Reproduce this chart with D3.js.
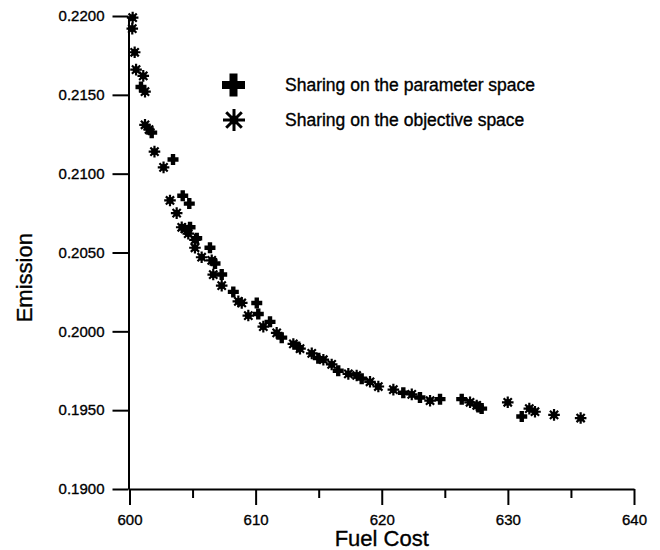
<!DOCTYPE html>
<html>
<head>
  <meta charset="utf-8"/>
  <title>Fuel Cost vs Emission</title>
  <script src="https://d3js.org/d3.v7.min.js"></script>
<style>
body { margin: 0; background: #fff; }
.chart text { font-family: "Liberation Sans", Arial, sans-serif; fill: #000; stroke: #000; stroke-width: 0.35; }
.axis path, .axis line { stroke: #000; stroke-width: 2; }
.axis text { font-size: 15px; }
</style>
</head>
<body>
  <svg id="chart" class="chart" width="660" height="550"></svg>
  <script>
    // sharing on the parameter space (+)
    var paramCost = [600.91, 601.76, 603.45, 604.22, 604.74, 604.80, 605.33, 606.38, 606.78, 607.31,
                     608.23, 610.09, 610.21, 611.14, 612.07, 613.38, 614.97, 616.55, 618.41, 621.71,
                     623.03, 624.62, 626.34, 627.66, 627.92, 631.10];
    var paramEmission = [0.2155, 0.2126, 0.2109, 0.2086, 0.2081, 0.2066, 0.2059, 0.2053, 0.2043, 0.2036,
                         0.2025, 0.2018, 0.2011, 0.2006, 0.1996, 0.1990, 0.1983, 0.1975, 0.1970, 0.1961,
                         0.1958, 0.1957, 0.1957, 0.1952, 0.1951, 0.1946];

    // sharing on the objective space (*)
    var objCost = [600.25, 600.22, 600.41, 600.52, 601.09, 601.23, 601.23, 601.55, 601.98, 602.70,
                   603.21, 603.74, 604.14, 604.40, 604.66, 605.19, 605.19, 605.72, 606.52, 606.64,
                   607.31, 608.63, 608.90, 609.42, 610.61, 611.67, 612.99, 613.52, 614.45, 615.37,
                   616.03, 617.35, 618.01, 619.07, 619.73, 620.92, 622.38, 623.83, 627.00, 627.53,
                   629.99, 631.70, 632.15, 633.66, 635.77];
    var objEmission = [0.2199, 0.2192, 0.2177, 0.2166, 0.2162, 0.2152, 0.2131, 0.2128, 0.2114, 0.2104,
                       0.2083, 0.2075, 0.2066, 0.2065, 0.2062, 0.2058, 0.2053, 0.2047, 0.2045, 0.2036,
                       0.2029, 0.2019, 0.2018, 0.2010, 0.2003, 0.1999, 0.1992, 0.1989, 0.1986, 0.1982,
                       0.1979, 0.1973, 0.1972, 0.1968, 0.1965, 0.1963, 0.1960, 0.1956, 0.1955, 0.1953,
                       0.1955, 0.1951, 0.1949, 0.1947, 0.1945];

    var xTicks = [600, 610, 620, 630, 640];
    var xMinorTicks = [605, 615, 625, 635];
    var yTicks = [0.1900, 0.1950, 0.2000, 0.2050, 0.2100, 0.2150, 0.2200];
    var legendLabels = ["Sharing on the parameter space", "Sharing on the objective space"];

    var svg = d3.select("#chart");

    var x = d3.scaleLinear().domain([600, 640]).range([129.5, 634]);
    var y = d3.scaleLinear().domain([0.19, 0.22]).range([489, 16]);

    // axes
    svg.append("g")
        .attr("class", "axis")
        .attr("transform", "translate(0,489)")
        .call(d3.axisBottom(x).tickValues(xMinorTicks).tickSize(9).tickSizeOuter(0).tickFormat(""))
        .select(".domain").remove();

    svg.append("g")
        .attr("class", "axis")
        .attr("transform", "translate(0,489)")
        .call(d3.axisBottom(x).tickValues(xTicks).tickSize(16).tickSizeOuter(0).tickPadding(9)
              .tickFormat(d3.format("d")));

    svg.append("g")
        .attr("class", "axis")
        .attr("transform", "translate(128.5,0)")
        .call(d3.axisLeft(y).tickValues(yTicks).tickSize(16).tickSizeOuter(0).tickPadding(8)
              .tickFormat(d3.format(".4f")));

    svg.selectAll(".axis text").attr("font-family", null);

    // axis titles
    svg.append("text")
        .attr("x", x(620))
        .attr("y", 546)
        .attr("text-anchor", "middle")
        .style("font-size", "22px")
        .text("Fuel Cost");

    svg.append("text")
        .attr("transform", "translate(32," + y(0.2034) + ") rotate(-90)")
        .attr("text-anchor", "middle")
        .style("font-size", "22px")
        .text("Emission");

    // markers
    function plusPath(a, w) {
      return "M" + (-w) + "," + (-a) + "H" + w + "V" + (-w) + "H" + a + "V" + w + "H" + w +
             "V" + a + "H" + (-w) + "V" + w + "H" + (-a) + "V" + (-w) + "H" + (-w) + "Z";
    }
    function starPath(r) {
      var p = "";
      for (var i = 0; i < 4; i++) {
        var ang = i * Math.PI / 4;
        var dx = r * Math.cos(ang), dy = r * Math.sin(ang);
        p += "M" + (-dx) + "," + (-dy) + "L" + dx + "," + dy;
      }
      return p;
    }

    var objData = d3.zip(objCost, objEmission);
    var paramData = d3.zip(paramCost, paramEmission);

    var stars = svg.append("g").selectAll("g")
        .data(objData)
        .enter().append("g")
        .attr("transform", function(d) { return "translate(" + x(d[0]) + "," + y(d[1]) + ")"; });
    stars.append("path")
        .attr("d", starPath(5.8))
        .attr("stroke", "#000")
        .attr("stroke-width", 2.2);
    stars.append("circle")
        .attr("r", 3.4)
        .attr("fill", "#000");

    svg.append("g").selectAll("path")
        .data(paramData)
        .enter().append("path")
        .attr("transform", function(d) { return "translate(" + x(d[0]) + "," + y(d[1]) + ")"; })
        .attr("d", plusPath(5.5, 2.2))
        .attr("fill", "#000");

    // legend
    var legend = svg.append("g");
    legend.append("path")
        .attr("transform", "translate(233.5,85)")
        .attr("d", plusPath(11.5, 4))
        .attr("fill", "#000");
    var ls = legend.append("g").attr("transform", "translate(234,120)");
    ls.append("path")
        .attr("d", starPath(11))
        .attr("stroke", "#000")
        .attr("stroke-width", 3);
    ls.append("circle").attr("r", 4.5).attr("fill", "#000");

    legend.selectAll("text")
        .data(legendLabels)
        .enter().append("text")
        .attr("x", 285)
        .attr("y", function(d, i) { return 91 + i * 35; })
        .style("font-size", "17.5px")
        .text(function(d) { return d; });
  </script>
</body>
</html>
